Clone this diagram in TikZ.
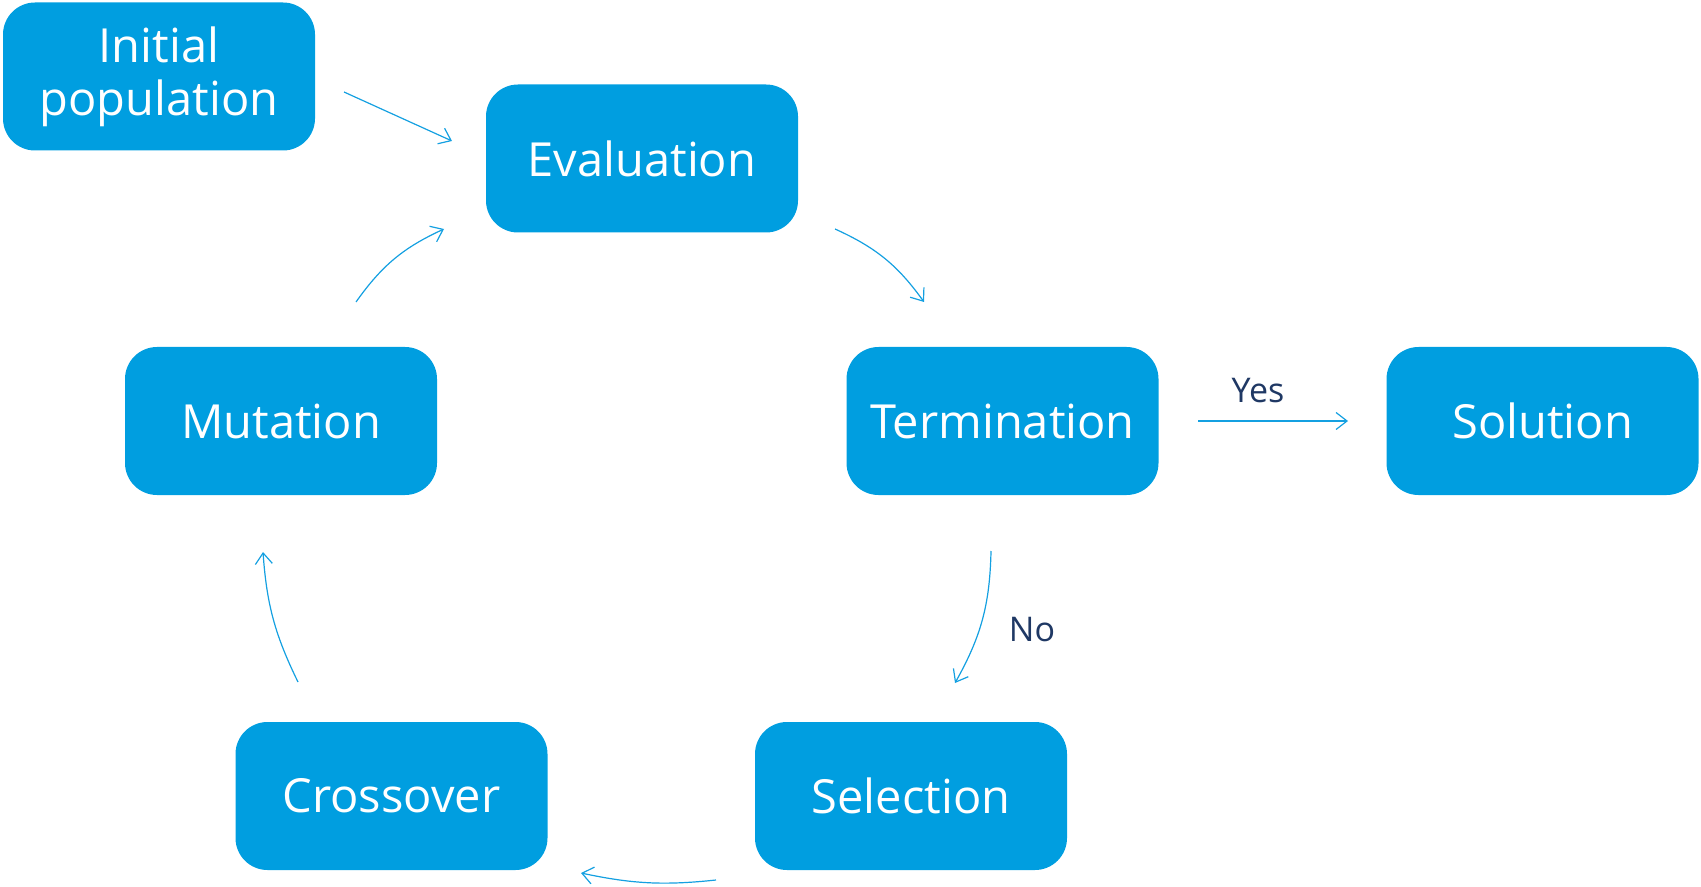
\documentclass[tikz,border=0pt]{standalone}
\usepackage{fontspec}
\setmainfont{Open Sans}
\usetikzlibrary{arrows.meta}
\definecolor{boxblue}{RGB}{0,158,224}
\definecolor{lineblue}{RGB}{20,160,225}
\definecolor{navy}{RGB}{31,56,100}
\begin{document}
\begin{tikzpicture}[x=0.5pt,y=-0.5pt,
  box/.style={fill=boxblue, rounded corners=16pt, minimum width=156pt, minimum height=74pt,
    inner sep=0pt, text=white, font=\fontsize{23.5}{26.5}\selectfont, align=center},
  conn/.style={draw=lineblue, line width=0.6pt, -{Straight Barb[length=5.5pt,width=8.5pt]}},
  lbl/.style={text=navy, font=\fontsize{17}{20}\selectfont}]
\useasboundingbox (0,0) rectangle (1701,887);

\node[box] (init) at (159,76.5) {Initial\\population};
\node[box] (eval) at (642,158.5) {Evaluation};
\node[box] (term) at (1002.5,421) {Termination};
\node[box] (sol) at (1542.5,421) {Solution};
\node[box] (mut) at (281,421) {Mutation};
\node[box] (cross) at (391.5,796) {Crossover};
\node[box] (sel) at (911,796) {Selection};

\coordinate (a1s) at (344,92);  \coordinate (a1e) at (452,141);
\coordinate (a2s) at (356,302); \coordinate (a2e) at (444,229);
\coordinate (a3s) at (835,229); \coordinate (a3e) at (924,302);
\coordinate (a4s) at (991,551); \coordinate (a4e) at (955,683);
\coordinate (a5s) at (716,880); \coordinate (a5e) at (581,873);
\coordinate (a6s) at (298,682); \coordinate (a6e) at (263,552);
\coordinate (a7s) at (1198,421); \coordinate (a7e) at (1348,421);

\draw[conn] (a1s) -- (a1e);
\draw[conn] (a2s) to[bend left=15] (a2e);
\draw[conn] (a3s) to[bend left=15] (a3e);
\draw[conn] (a4s) to[bend left=14] (a4e);
\draw[conn] (a5s) to[bend left=9] (a5e);
\draw[conn] (a6s) to[bend left=11] (a6e);
\draw[conn] (a7s) -- (a7e);

\node[lbl] (yes) at (1258,391) {Yes};
\node[lbl] (no) at (1032,630) {No};
\end{tikzpicture}
\end{document}
